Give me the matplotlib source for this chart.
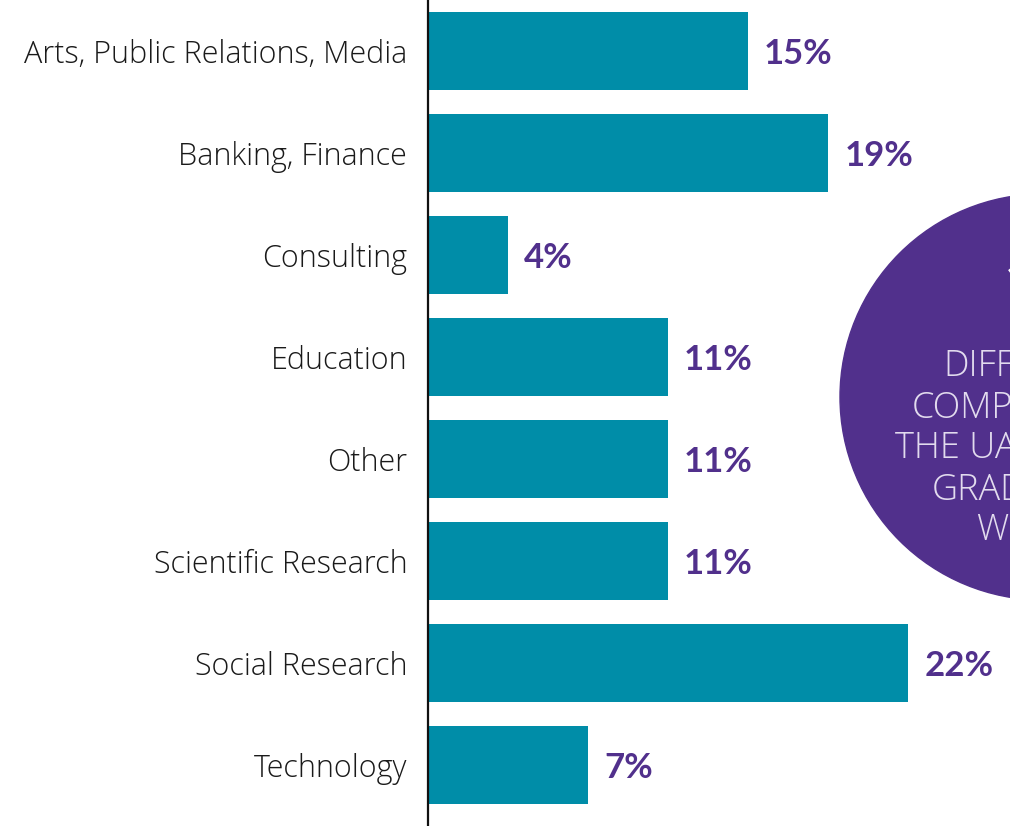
import matplotlib
matplotlib.use("Agg")
import matplotlib.pyplot as plt
from matplotlib.patches import Circle

categories = ["Arts, Public Relations, Media", "Banking, Finance", "Consulting",
              "Education", "Other", "Scientific Research", "Social Research", "Technology"]
values = [14.81, 18.52, 3.70, 11.11, 11.11, 11.11, 22.22, 7.41]
value_labels = ["15%", "19%", "4%", "11%", "11%", "11%", "22%", "7%"]
circle_number = "13"
circle_lines = ["DIFFERENT", "COMPANIES", "THE UAE", "GRADUATES", "WORK FOR"]

W, H = 1010, 826
fig = plt.figure(figsize=(W / 100, H / 100), dpi=100)

bar_color = "#008da8"
purple = "#51308c"
font = "Lato"
label_font = "Open Sans"

# overlay for the circle in pixel coordinates
ov = fig.add_axes([0, 0, 1, 1])
ov.set_xlim(0, W)
ov.set_ylim(H, 0)
ov.axis("off")
ov.add_patch(Circle((1043, 397), 203, color=purple, zorder=0))
ov.text(1001, 248, circle_number, fontsize=78, family=font, fontweight="bold",
        color="white", ha="left", va="top")
xs = [943, 912, 895, 932, 977]
ys = [367, 408, 449, 490, 531]
for x, y, t in zip(xs, ys, circle_lines):
    ov.text(x, y, t, fontsize=26, family=label_font, fontweight="light",
            color="#e2dbee", ha="left", va="center")

left = 428 / W
ax = fig.add_axes([left, 0, 1 - left, 1])
ax.patch.set_alpha(0)
pos = list(range(len(categories)))
ax.barh(pos, values, height=0.765, color=bar_color)
ax.set_ylim(7.598, -0.5)
ax.set_xlim(0, (W - 428) / 21.6)
ax.set_yticks(pos)
ax.set_yticklabels(categories, fontsize=22, family=label_font, fontweight="light", color="#1a1a1a")
ax.tick_params(axis="y", length=0, pad=15)
ax.set_xticks([])
for s in ["top", "right", "bottom"]:
    ax.spines[s].set_visible(False)
ax.spines["left"].set_linewidth(1.6)
ax.spines["left"].set_color("#111111")
for p, v, lab in zip(pos, values, value_labels):
    ax.text(v + 0.75, p + 0.03, lab, va="center", ha="left", fontsize=25,
            family=font, fontweight="bold", color=purple)

fig.savefig("out.png", dpi=100)
